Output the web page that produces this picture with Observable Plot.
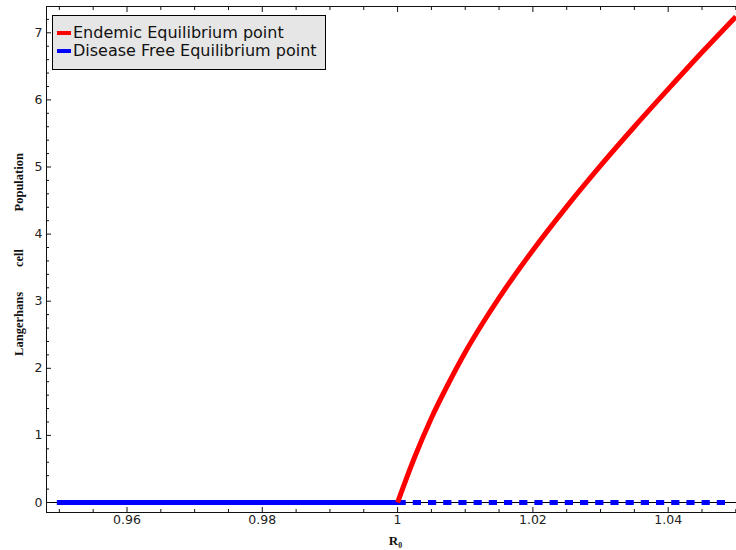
<!DOCTYPE html>
<html><head><meta charset="utf-8">
<script src="https://cdn.jsdelivr.net/npm/d3@7"></script>
<script src="https://cdn.jsdelivr.net/npm/@observablehq/plot@0.6"></script>
<style>
body{margin:0;background:#fff;}
#wrap{position:relative;width:736px;height:550px;overflow:hidden;}
#legend{position:absolute;left:52px;top:15px;width:272px;height:53px;background:#e6e6e6;border:1px solid #000;font-family:"DejaVu Sans";font-size:16px;color:#111;z-index:2;}
.item{position:absolute;left:4px;display:flex;align-items:center;height:18px;line-height:18px;white-space:nowrap;}
.sw{width:14px;height:4px;margin-right:2px;}
</style></head><body>
<div id="wrap"><div id="legend"></div></div>
<script>
// Data
const seriesNames = ["Endemic Equilibrium point", "Disease Free Equilibrium point"];
const seriesColors = ["#ff0000", "#0000ff"];
const endemicR0 = [1.0, 1.0025, 1.005, 1.0075, 1.01, 1.0125, 1.015, 1.02, 1.025, 1.03, 1.035, 1.04, 1.045, 1.05];
const endemicPop = [0, 0.67, 1.26, 1.77, 2.24, 2.66, 3.05, 3.76, 4.41, 5.02, 5.60, 6.16, 6.71, 7.24];
const dfeSolidR0 = [0.95, 1.0];
const dfeSolidPop = [0, 0];
const dfeDottedR0 = [1.0, 1.0485];
const dfeDottedPop = [0, 0];
const xTicks = [0.96, 0.98, 1, 1.02, 1.04];
const xTickLabels = ["0.96", "0.98", "1", "1.02", "1.04"];
const yTicks = [0, 1, 2, 3, 4, 5, 6, 7];
const yTickLabels = ["0", "1", "2", "3", "4", "5", "6", "7"];
const xTitle = "R\u2080";
const yTitle = "Langerhans\u2003\u2003cell\u2003\u2003\u2003Population";

const xDomain = [0.9481, 1.0501];
const yDomain = [-0.149, 7.392];
const xMinor = d3.range(190, 211).filter(i => i % 4 !== 0).map(i => i / 200);
const yMinor = d3.range(1, 37).filter(i => i % 5 !== 0).map(i => i / 5);

const endemic = endemicR0.map((x, i) => ({x, y: endemicPop[i]}));
const dfeSolid = dfeSolidR0.map((x, i) => ({x, y: dfeSolidPop[i]}));
const dfeDotted = dfeDottedR0.map((x, i) => ({x, y: dfeDottedPop[i]}));

const axisColor = "#111";
const chart = Plot.plot({
  width: 736, height: 550,
  marginLeft: 46, marginRight: 0, marginTop: 6, marginBottom: 38,
  style: {fontFamily: "DejaVu Sans", fontSize: "12.5px", color: "#222", background: "#fff"},
  x: {domain: xDomain},
  y: {domain: yDomain},
  marks: [
    Plot.ruleY([0], {stroke: "#000", strokeWidth: 1}),
    Plot.ruleX([xDomain[0]], {stroke: axisColor}),
    Plot.ruleY([yDomain[0]], {stroke: axisColor}),
    Plot.ruleY([yDomain[1]], {stroke: axisColor}),
    Plot.axisX({anchor: "bottom", ticks: xTicks, tickSize: -5, tickPadding: 8, stroke: axisColor,
      tickFormat: d => xTickLabels[xTicks.indexOf(d)], label: null}),
    Plot.axisX({anchor: "bottom", ticks: xMinor, tickSize: -3, text: null, label: null, stroke: axisColor}),
    Plot.axisX({anchor: "top", ticks: xTicks, tickSize: -5, text: null, label: null, stroke: axisColor}),
    Plot.axisX({anchor: "top", ticks: xMinor, tickSize: -3, text: null, label: null, stroke: axisColor}),
    Plot.axisY({anchor: "left", ticks: yTicks, tickSize: -5, tickPadding: 9, stroke: axisColor,
      tickFormat: d => yTickLabels[yTicks.indexOf(d)], label: null}),
    Plot.axisY({anchor: "left", ticks: yMinor, tickSize: -3, text: null, label: null, stroke: axisColor}),
    Plot.line(dfeSolid, {x: "x", y: "y", stroke: seriesColors[1], strokeWidth: 5, strokeLinecap: "square"}),
    Plot.line(dfeDotted, {x: "x", y: "y", stroke: seriesColors[1], strokeWidth: 5, strokeLinecap: "butt", strokeDasharray: "8.2,7"}),
    Plot.line(endemic, {x: "x", y: "y", stroke: seriesColors[0], strokeWidth: 5, curve: "monotone-x", strokeLinecap: "butt"}),
    Plot.text([yTitle], {text: d => d, frameAnchor: "left", textAnchor: "middle", rotate: -90, dx: -28, dy: -5,
      fontFamily: "Liberation Serif", fontWeight: "bold", fontSize: 12.5, fill: "#111"}),
    Plot.text([xTitle], {text: d => d, frameAnchor: "bottom", textAnchor: "middle", dy: 32, dx: 4,
      fontFamily: "Liberation Serif", fontWeight: "bold", fontSize: 13, fill: "#111"})
  ]
});
document.getElementById("wrap").appendChild(chart);

const legend = d3.select("#legend");
seriesNames.forEach((name, i) => {
  const item = legend.append("div").attr("class", "item").style("top", (8 + i * 18) + "px");
  item.append("div").attr("class", "sw").style("background", seriesColors[i]);
  item.append("span").text(name);
});
</script>
</body></html>
